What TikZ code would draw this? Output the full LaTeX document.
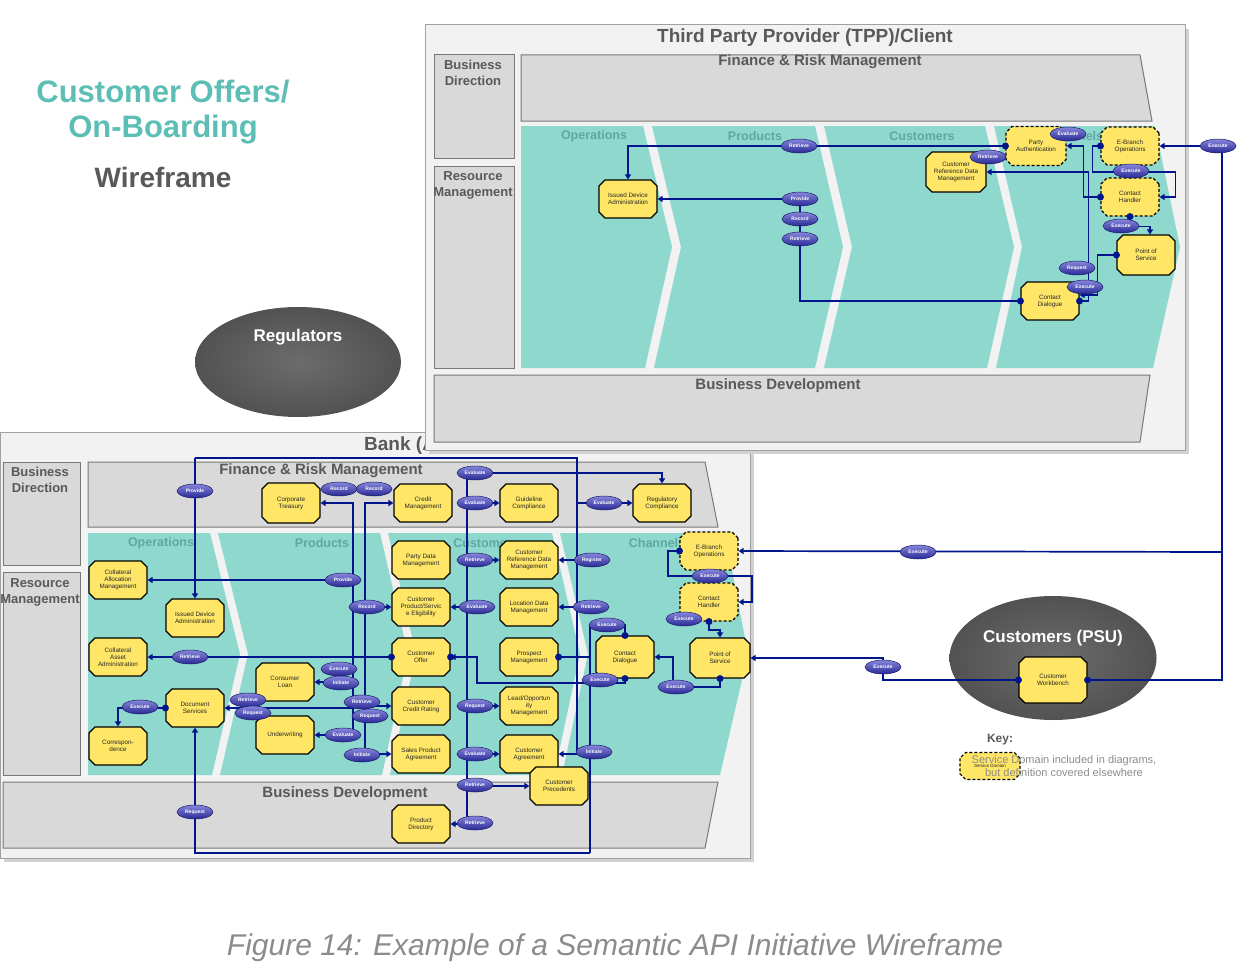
\documentclass[tikz,border=0pt]{standalone}
\usepackage{fontspec}
\setmainfont{Liberation Sans}
\usetikzlibrary{arrows.meta,shapes.geometric,shapes.misc}
\definecolor{sdyellow}{RGB}{255,230,102}
\definecolor{lineblue}{RGB}{0,20,140}
\definecolor{opdark}{RGB}{40,40,150}
\definecolor{oplight}{RGB}{135,135,220}
\definecolor{teal1}{RGB}{142,216,205}
\definecolor{tealtxt}{RGB}{95,168,162}
\definecolor{titleteal}{RGB}{92,190,180}
\definecolor{boxfill}{RGB}{242,242,242}
\definecolor{boxline}{RGB}{160,160,160}
\definecolor{panel}{RGB}{217,217,217}
\definecolor{panelline}{RGB}{120,120,120}
\definecolor{hdr}{RGB}{89,89,89}
\definecolor{dkgrey}{RGB}{82,82,82}
\definecolor{captiongrey}{RGB}{140,140,140}
\pgfdeclarelayer{bg}
\pgfdeclarelayer{lines}
\pgfdeclarelayer{top}
\pgfsetlayers{bg,lines,main,top}
\tikzset{
 sd/.style={chamfered rectangle, chamfered rectangle xsep=3pt, chamfered rectangle ysep=3pt,
   draw=black, line width=1.1pt, fill=sdyellow, minimum width=58pt, minimum height=38pt,
   align=center, inner sep=1pt, font=\fontsize{6.3}{7}\selectfont, text=black!85},
 sdx/.style={sd, dash pattern=on 3pt off 2pt},
 op/.style={ellipse, draw=opdark!70!black, line width=0.5pt, top color=oplight, bottom color=opdark,
   minimum width=36pt, minimum height=14pt, inner sep=0pt, font=\bfseries\fontsize{5}{5.5}\selectfont, text=white},
 ln/.style={draw=lineblue, line width=1.7pt},
 arr/.style={ln, -{Triangle[length=5pt,width=6pt]}},
 pnl/.style={fill=panel, draw=panelline, line width=1pt},
 chev/.style={fill=teal1},
 hd/.style={font=\bfseries\fontsize{13}{16}\selectfont, text=hdr, align=center},
 bighd/.style={font=\bfseries\fontsize{15}{17}\selectfont, text=hdr},
 thd/.style={font=\bfseries\fontsize{12.5}{14}\selectfont, text=tealtxt},
 dotc/.style={fill=lineblue},
}
\newcommand\dotat[1]{\fill[dotc] (#1) circle (3.5pt);}
\begin{document}
\begin{tikzpicture}[x=1pt,y=-1pt]
\useasboundingbox (0,0) rectangle (1238,979);
\begin{pgfonlayer}{bg}
\fill[white] (0,0) rectangle (1238,979);
% titles
\node[font=\bfseries\fontsize{31}{34}\selectfont, text=titleteal] (t1) at (163,92) {Customer Offers/};
\node[font=\bfseries\fontsize{31}{34}\selectfont, text=titleteal] (t2) at (163,130) {On-Boarding};
\node[font=\bfseries\fontsize{28}{31}\selectfont, text=hdr] (t3) at (163,177) {Wireframe};
% regulators
\node[ellipse, inner color=dkgrey!85, outer color=dkgrey, minimum width=206pt, minimum height=110pt] (reg) at (298,362) {};
\node[font=\bfseries\fontsize{17}{20}\selectfont, text=white] (regt) at (298,337) {Regulators};
% ===== Bank box
\fill[black!18] (4,436) rectangle (754,862);
\filldraw[fill=boxfill, draw=boxline, line width=1pt] (0,432) rectangle (750,858);
\node[font=\bfseries\fontsize{19}{22}\selectfont, text=hdr, anchor=west, inner sep=0pt] (bankt) at (364,446) {Bank (ASPSP)};
\filldraw[pnl] (3,462) rectangle (80,565);
\node[hd] (bbd) at (40,480) {Business\\Direction};
\filldraw[pnl] (3,572) rectangle (80,775);
\node[hd] (brm) at (40,592) {Resource\\Management};
\filldraw[pnl] (88,462) -- (705,462) -- (718,527) -- (88,527) -- cycle;
\node[bighd] (bfrm) at (321,471) {Finance \& Risk Management};
\fill[chev] (88,533) -- (210,533) -- (240,654) -- (212,775) -- (88,775) -- cycle;
\fill[chev] (218,533) -- (380,533) -- (408,654) -- (382,775) -- (220,775) -- (248,654) -- cycle;
\fill[chev] (388,533) -- (552,533) -- (580,654) -- (554,775) -- (390,775) -- (416,654) -- cycle;
\fill[chev] (560,533) -- (725,533) -- (748,654) -- (720,775) -- (562,775) -- (588,654) -- cycle;
\node[thd] (bops) at (161,543) {Operations};
\node[thd] (bprod) at (322,543) {Products};
\node[thd] (bcust) at (486,543) {Customers};
\node[thd] (bchan) at (657,543) {Channels};
\filldraw[pnl] (3,782) -- (718,782) -- (705,848) -- (3,848) -- cycle;
\node[bighd] (bbdv) at (345,794) {Business Development};
% ===== TPP box
\fill[black!18] (429,29) rectangle (1189,454);
\filldraw[fill=boxfill, draw=boxline, line width=1pt] (425,25) rectangle (1185,450);
\node[font=\bfseries\fontsize{19}{22}\selectfont, text=hdr] (tppt) at (805,38) {Third Party Provider (TPP)/Client};
\filldraw[pnl] (434,55) rectangle (514,158);
\node[hd] (tbd) at (473,73) {Business\\Direction};
\filldraw[pnl] (434,166) rectangle (514,368);
\node[hd] (trm) at (473,185) {Resource\\Management};
\filldraw[pnl] (521,55) -- (1140,55) -- (1152,121) -- (521,121) -- cycle;
\node[bighd] (tfrm) at (820,62) {Finance \& Risk Management};
\fill[chev] (521,126) -- (643,126) -- (672,247) -- (645,368) -- (521,368) -- cycle;
\fill[chev] (652,126) -- (815,126) -- (843,247) -- (815,368) -- (654,368) -- (681,247) -- cycle;
\fill[chev] (824,126) -- (985,126) -- (1014,247) -- (987,368) -- (824,368) -- (852,247) -- cycle;
\fill[chev] (994,126) -- (1155,126) -- (1180,247) -- (1153,368) -- (996,368) -- (1022,247) -- cycle;
\node[thd] (tops) at (594,136) {Operations};
\node[thd] (tprod) at (755,136) {Products};
\node[thd] (tcust) at (922,136) {Customers};
\node[thd] (tchan) at (1075,136) {Channels};
\filldraw[pnl] (434,375) -- (1150,375) -- (1140,442) -- (434,442) -- cycle;
\node[bighd] (tbdv) at (778,386) {Business Development};
% customers PSU
\node[ellipse, inner color=dkgrey!85, outer color=dkgrey, minimum width=207pt, minimum height=124pt] (psu) at (1053,658) {};
\node[font=\bfseries\fontsize{17}{20}\selectfont, text=white] (psut) at (1053,638) {Customers (PSU)};
% caption and key
\node[font=\itshape\fontsize{30}{34}\selectfont, text=captiongrey] (cap) at (615,948) {Figure 14: Example of a Semantic API Initiative Wireframe};
\node[font=\bfseries\fontsize{12}{14}\selectfont, text=hdr] (keyh) at (1000,740) {Key:};
\end{pgfonlayer}

% ===== service domains: TPP
\node[sd] (tida) at (628,199) {Issued Device\\Administration};
\node[sd, minimum width=60pt, minimum height=40pt] (tcrd) at (956,172) {Customer\\Reference Data\\Management};
\node[sdx, minimum width=60pt, minimum height=39pt] (tpa) at (1036,146) {Party\\Authentication};
\node[sdx] (teb) at (1130,146) {E-Branch\\Operations};
\node[sdx] (tch) at (1130,197) {Contact\\Handler};
\node[sd, minimum height=40pt] (tpos) at (1146,255) {Point of\\Service};
\node[sd] (tcd) at (1050,301) {Contact\\Dialogue};
% ===== service domains: Bank
\node[sd, minimum height=40pt] (ct) at (291,503) {Corporate\\Treasury};
\node[sd] (cm) at (423,503) {Credit\\Management};
\node[sd] (gc) at (529,503) {Guideline\\Compliance};
\node[sd] (rc) at (662,503) {Regulatory\\Compliance};
\node[sd] (pdm) at (421,560) {Party Data\\Management};
\node[sd] (crd) at (529,560) {Customer\\Reference Data\\Management};
\node[sd] (cpse) at (421,607) {Customer\\Product/Servic\\e Eligibility};
\node[sd] (ldm) at (529,607) {Location Data\\Management};
\node[sd] (co) at (421,657) {Customer\\Offer};
\node[sd] (pm) at (529,657) {Prospect\\Management};
\node[sd] (ccr) at (421,706) {Customer\\Credit Rating};
\node[sd] (lom) at (529,706) {Lead/Opportun\\ity\\Management};
\node[sd] (spa) at (421,754) {Sales Product\\Agreement};
\node[sd] (ca) at (529,754) {Customer\\Agreement};
\node[sd] (cp) at (559,786) {Customer\\Precedents};
\node[sd] (pd) at (421,824) {Product\\Directory};
\node[sd] (cam) at (118,580) {Collateral\\Allocation\\Management};
\node[sd] (ida) at (195,618) {Issued Device\\Administration};
\node[sd] (caa) at (118,657) {Collateral\\Asset\\Administration};
\node[sd] (cl) at (285,682) {Consumer\\Loan};
\node[sd] (ds) at (195,708) {Document\\Services};
\node[sd] (uw) at (285,735) {Underwriting};
\node[sd] (corr) at (118,746) {Correspon-\\dence};
\node[sd, minimum height=42pt] (cd) at (625,657) {Contact\\Dialogue};
\node[sd, minimum width=60pt, minimum height=40pt] (pos) at (720,658) {Point of\\Service};
\node[sdx] (eb) at (709,551) {E-Branch\\Operations};
\node[sdx] (ch) at (709,602) {Contact\\Handler};
\node[sd, minimum width=68pt, minimum height=46pt] (cw) at (1053,680) {Customer\\Workbench};
\node[sdx, minimum width=60pt, minimum height=27pt, font=\fontsize{4.5}{5}\selectfont] (key) at (990,766) {Service Domain};

% ===== operations: TPP
\node[op] (o1) at (799,146) {Retrieve};
\node[op] (o2) at (800,199) {Provide};
\node[op] (o3) at (800,219) {Record};
\node[op] (o4) at (800,239) {Retrieve};
\node[op] (o5) at (1068,134) {Evaluate};
\node[op] (o6) at (988,157) {Retrieve};
\node[op] (o7) at (1131,171) {Execute};
\node[op] (o8) at (1121,226) {Execute};
\node[op] (o9) at (1077,268) {Request};
\node[op] (o10) at (1085,287) {Execute};
\node[op] (o11) at (1218,146) {Execute};
\node[op] (o12) at (918,552) {Execute};
\node[op] (o13) at (883,667) {Execute};
% ===== operations: Bank
\node[op] (b1) at (195,491) {Provide};
\node[op] (b2) at (339,489) {Record};
\node[op] (b3) at (374,489) {Record};
\node[op] (b4) at (475,473) {Evaluate};
\node[op] (b5) at (475,503) {Evaluate};
\node[op] (b6) at (604,503) {Evaluate};
\node[op] (b7) at (475,560) {Retrieve};
\node[op] (b8) at (592,560) {Register};
\node[op] (b9) at (343,580) {Provide};
\node[op] (b10) at (367,607) {Record};
\node[op] (b11) at (477,607) {Evaluate};
\node[op] (b12) at (591,607) {Retrieve};
\node[op] (b13) at (710,576) {Execute};
\node[op] (b14) at (684,619) {Execute};
\node[op] (b15) at (607,625) {Execute};
\node[op] (b16) at (190,657) {Retrieve};
\node[op] (b17) at (339,669) {Execute};
\node[op] (b18) at (341,683) {Initiate};
\node[op] (b19) at (600,680) {Execute};
\node[op] (b20) at (676,687) {Execute};
\node[op] (b21) at (248,700) {Retrieve};
\node[op] (b22) at (253,713) {Request};
\node[op] (b23) at (362,702) {Retrieve};
\node[op] (b24) at (370,716) {Request};
\node[op] (b25) at (475,706) {Request};
\node[op] (b26) at (343,735) {Evaluate};
\node[op] (b27) at (362,755) {Initiate};
\node[op] (b28) at (475,754) {Evaluate};
\node[op] (b29) at (594,752) {Initiate};
\node[op] (b30) at (475,785) {Retrieve};
\node[op] (b31) at (475,823) {Retrieve};
\node[op] (b32) at (195,812) {Request};
\node[op] (b33) at (140,707) {Execute};

\begin{pgfonlayer}{lines}
% TPP connectors
\draw[arr] (tpa.west) -| (tida.north);
\draw[arr] (tcd.west) -| (o2.center) -- (tida.east);
\draw[arr] (tch.west) -- ++(-17,0) |- (tpa.east);
\draw[arr] (tcd.east) -- ++(9,0) |- (tcrd.east);
\draw[arr] (teb.west) -- ++(-8,0) -- ++(0,26) -- ++(83,0) |- (tch.east);
\draw[arr] (tch.south) -- ++(0,10) -| ([xshift=4pt]tpos.north);
\draw[arr] (tpos.west) -- ++(-19,0) |- ([yshift=6pt]tcd.east);
\coordinate (jr) at (1222,552);
\draw[arr] (cw.east) -- (1222,680) |- (teb.east);
\draw[arr] (jr) -- (eb.east);
\draw[arr] (cw.west) -| (o13.center) |- (pos.east);
% Bank connectors
\coordinate (ja) at (577,458);
\coordinate (jb) at (195,458);
\draw[ln] (577,752) -- (ja) -- (jb);
\draw[arr] (jb) -- (ida.north);
\draw[arr] (rc.west) ++(-56,0) -- (rc.west);
\draw[arr] (crd.east) ++(19,0) -- (crd.east);
\draw[arr] (ldm.east) ++(19,0) -- (ldm.east);
\draw[arr] (ca.east) ++(19,0) -- (ca.east);
\draw[ln] (467,473) -- (467,824);
\draw[arr] (467,473) -| (rc.north);
\draw[arr] (gc.west) ++(-33,0) -- (gc.west);
\draw[arr] (crd.west) ++(-33,0) -- (crd.west);
\draw[arr] (cpse.east) ++(17,0) -- (cpse.east);
\draw[arr] (lom.west) ++(-33,0) -- (lom.west);
\draw[arr] (ca.west) ++(-33,0) -- (ca.west);
\draw[arr] (cp.west) ++(-63,0) -- (cp.west);
\draw[arr] (pd.east) ++(17,0) -- (pd.east);
\draw[arr] (353,735) -- (353,503) -- (ct.east);
\draw[arr] (cam.east) ++(206,0) -- (cam.east);
\draw[arr] (cl.east) ++(39,0) -- (cl.east);
\draw[arr] (uw.east) ++(39,0) -- (uw.east);
\draw[arr] (ds.east) ++(129,0) -- (ds.east);
\draw[arr] (365,755) -- (365,503) -- (cm.west);
\draw[arr] (cpse.west) ++(-27,0) -- (cpse.west);
\draw[arr] (ccr.west) ++(-27,0) -- (ccr.west);
\draw[arr] (spa.west) ++(-27,0) -- (spa.west);
\draw[arr] (co.west) -- (caa.east);
\draw[arr] (cd.south) |- (477,683) |- (co.east);
\draw[ln] (cd.north) |- (590,625) -- (590,853);
\draw[ln] (pm.east) -- (590,657);
\draw[arr] (590,853) -| (ds.south);
\draw[arr] (pos.south) |- (673,687) |- (cd.east);
\draw[arr] (eb.west) -- (668,551) |- (752,576) |- (ch.east);
\draw[arr] (ch.south) |- (720,630) -- (pos.north);
\draw[arr] (ds.west) -| (corr.north);
\end{pgfonlayer}

\begin{pgfonlayer}{top}
\dotat{tpa.west}\dotat{tcd.west}\dotat{tch.west}\dotat{tcd.east}\dotat{teb.west}
\dotat{tch.south}\dotat{tpos.west}\dotat{cw.east}\dotat{cw.west}
\dotat{co.west}\dotat{co.east}\dotat{cd.south}\dotat{cd.north}\dotat{pm.east}
\dotat{pos.south}\dotat{eb.west}\dotat{ch.south}\dotat{ds.west}
\node[font=\fontsize{11}{13}\selectfont, text=captiongrey, align=center] (keytxt) at (1064,766) {Service Domain included in diagrams,\\but definition covered elsewhere};
\end{pgfonlayer}
\end{tikzpicture}
\end{document}
